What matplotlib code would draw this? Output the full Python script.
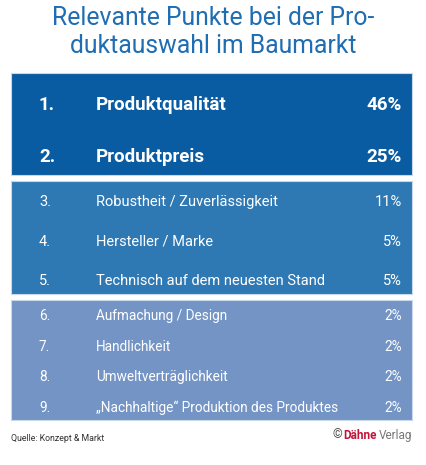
import matplotlib.pyplot as plt
from matplotlib.patches import Rectangle

# Daten
raenge = ["1.", "2.", "3.", "4.", "5.", "6.", "7.", "8.", "9."]
punkte = [
    "Produktqualität",
    "Produktpreis",
    "Robustheit / Zuverlässigkeit",
    "Hersteller / Marke",
    "Technisch auf dem neuesten Stand",
    "Aufmachung / Design",
    "Handlichkeit",
    "Umweltverträglichkeit",
    "\u201eNachhaltige\u201c Produktion des Produktes",
]
anteile = [46, 25, 11, 5, 5, 2, 2, 2, 2]
gruppen = [0, 0, 1, 1, 1, 2, 2, 2, 2]

titel = "Relevante Punkte bei der Pro-\nduktauswahl im Baumarkt"
quelle = "Quelle: Konzept & Markt"

# Layout (Pixel)
W, H = 427, 465
blocks = [(73, 175), (181, 294), (299.5, 420)]
farben = ["#0a5ca2", "#2e78b4", "#7394c5"]
# erste Grundlinie ab Blockoberkante, Zeilenabstand
zeilen = [(37, 52), (25, 39.5), (20.5, 30.5)]
schrift = [("bold", 13.5), ("normal", 10.5), ("normal", 9.8)]
fam = ["Roboto", "DejaVu Sans"]

fig = plt.figure(figsize=(W / 100, H / 100), dpi=100)
ax = fig.add_axes([0, 0, 1, 1])
ax.set_xlim(0, W)
ax.set_ylim(H, 0)
ax.axis("off")

for (y0, y1), c in zip(blocks, farben):
    ax.add_patch(Rectangle((11, y0), 401, y1 - y0, facecolor=c,
                           edgecolor="#c9d8ea", linewidth=0.8))

for g, (y0, y1) in enumerate(blocks):
    idx = [i for i, gg in enumerate(gruppen) if gg == g]
    off, step = zeilen[g]
    weight, size = schrift[g]
    for k, i in enumerate(idx):
        y = y0 + off + step * k
        ax.text(39, y, raenge[i], color="white", fontsize=size, fontweight=weight,
                family=fam, va="baseline", ha="left")
        ax.text(96, y, punkte[i], color="white", fontsize=size, fontweight=weight,
                family=fam, va="baseline", ha="left")
        ax.text(402, y, f"{anteile[i]}%", color="white", fontsize=size,
                fontweight=weight, family=fam, va="baseline", ha="right")

ax.text(W / 2, 25, titel.split("\n")[0], color="#1f6db2", fontsize=17.8, family=fam,
        ha="center", va="baseline")
ax.text(W / 2, 53, titel.split("\n")[1], color="#1f6db2", fontsize=17.8, family=fam,
        ha="center", va="baseline")

ax.text(11, 438, quelle, color="#333333", fontsize=6.3, family=fam,
        va="center", ha="left")
t1 = ax.text(412, 435, "Verlag", color="#777777", fontsize=8.5,
             family=fam, va="center", ha="right")
fig.canvas.draw()
bb = t1.get_window_extent()
t2 = ax.annotate("Dähne", xy=(bb.x0 - 2, H - 435), xycoords="figure pixels", color="#c3133a",
                 fontsize=8.5, fontweight="bold", family=fam,
                 va="center", ha="right")
fig.canvas.draw()
bb2 = t2.get_window_extent()
ax.annotate("©", xy=(bb2.x0 - 1, H - 435), xycoords="figure pixels", color="#555555",
            fontsize=9, family=fam, va="center", ha="right")

fig.savefig("out.png", dpi=100, facecolor="white")
